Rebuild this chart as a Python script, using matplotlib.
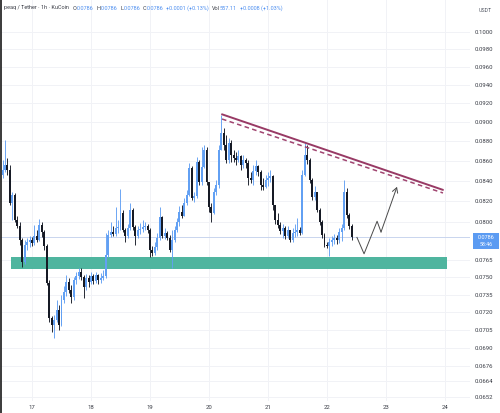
import matplotlib
matplotlib.use("Agg")
import matplotlib.pyplot as plt
from matplotlib.lines import Line2D
from matplotlib.patches import Rectangle
from matplotlib.ticker import NullLocator

# ---------------- data ----------------
hours = list(range(-12, 131))          # hourly candles, 0 = day 17 00:00
first_open = 0.08457
close = [
    0.08507, 0.08557, 0.08507, 0.08183, 0.08261, 0.08022, 0.07966, 0.07836, 0.07637, 0.07791,
    0.07818, 0.07836, 0.07809, 0.07873, 0.07836, 0.07975, 0.07910, 0.07781, 0.07451, 0.07152,
    0.07093, 0.07135, 0.07219, 0.07093, 0.07304, 0.07373, 0.07460, 0.07390, 0.07330, 0.07477,
    0.07512, 0.07548, 0.07503, 0.07416, 0.07495, 0.07460, 0.07512, 0.07468, 0.07521, 0.07477,
    0.07495, 0.07512, 0.07700, 0.07882, 0.07910, 0.07891, 0.07947, 0.07957, 0.08088, 0.07929,
    0.07873, 0.07947, 0.08117, 0.07957, 0.07873, 0.07929, 0.07938, 0.07957, 0.07966, 0.07929,
    0.07745, 0.07718, 0.07772, 0.07855, 0.08050, 0.07873, 0.07901, 0.07855, 0.07745, 0.07836,
    0.07929, 0.08003, 0.08098, 0.08060, 0.08183, 0.08261, 0.08527, 0.08232, 0.08251, 0.08587,
    0.08388, 0.08537, 0.08709, 0.08388, 0.08145, 0.08088, 0.08290, 0.08359, 0.08709, 0.08884,
    0.08759, 0.08607, 0.08780, 0.08658, 0.08627, 0.08607, 0.08648, 0.08557, 0.08607, 0.08577,
    0.08428, 0.08408, 0.08497, 0.08547, 0.08487, 0.08359, 0.08339, 0.08408, 0.08428, 0.08447,
    0.08164, 0.08022, 0.07975, 0.07919, 0.07947, 0.07873, 0.07929, 0.07836, 0.07901, 0.07910,
    0.07929, 0.07901, 0.08457, 0.08658, 0.08607, 0.08408, 0.08241, 0.08290, 0.08117, 0.08003,
    0.07882, 0.07791, 0.07781, 0.07818, 0.07836, 0.07855, 0.07836, 0.07910, 0.07947, 0.08290,
    0.08069, 0.07966, 0.07864,
]
high = [
    0.08607, 0.08811, 0.08627, 0.08557, 0.08290, 0.08280, 0.08060, 0.08003, 0.07855, 0.07836,
    0.07855, 0.07873, 0.07864, 0.07975, 0.07929, 0.08031, 0.08003, 0.07929, 0.07800, 0.07477,
    0.07169, 0.07177, 0.07304, 0.07262, 0.07347, 0.07425, 0.07521, 0.07495, 0.07434, 0.07503,
    0.07548, 0.07583, 0.07583, 0.07521, 0.07530, 0.07521, 0.07548, 0.07530, 0.07548, 0.07530,
    0.07539, 0.07566, 0.07901, 0.07929, 0.08003, 0.07966, 0.08145, 0.08022, 0.08319, 0.08117,
    0.07947, 0.07985, 0.08183, 0.08136, 0.07975, 0.07966, 0.07994, 0.08022, 0.08003, 0.07985,
    0.07947, 0.07781, 0.07818, 0.07901, 0.08145, 0.08060, 0.07947, 0.07919, 0.07882, 0.07929,
    0.07966, 0.08041, 0.08155, 0.08164, 0.08232, 0.08309, 0.08577, 0.08547, 0.08290, 0.08638,
    0.08607, 0.08739, 0.08759, 0.08739, 0.08388, 0.08183, 0.08329, 0.08408, 0.08759, 0.09073,
    0.08936, 0.08863, 0.08832, 0.08811, 0.08709, 0.08688, 0.08709, 0.08658, 0.08658, 0.08627,
    0.08607, 0.08487, 0.08557, 0.08607, 0.08557, 0.08507, 0.08428, 0.08457, 0.08487, 0.08507,
    0.08457, 0.08164, 0.08088, 0.08003, 0.07985, 0.07966, 0.07966, 0.07929, 0.07947, 0.07985,
    0.08041, 0.07957, 0.08507, 0.08780, 0.08759, 0.08627, 0.08428, 0.08349, 0.08290, 0.08136,
    0.08022, 0.07901, 0.07818, 0.07855, 0.07873, 0.07891, 0.07882, 0.07947, 0.07985, 0.08408,
    0.08329, 0.08088, 0.07985,
]
low = [
    0.08428, 0.08487, 0.08457, 0.08164, 0.08022, 0.08003, 0.07947, 0.07791, 0.07592, 0.07619,
    0.07745, 0.07772, 0.07781, 0.07791, 0.07818, 0.07827, 0.07864, 0.07745, 0.07434, 0.07118,
    0.07036, 0.06986, 0.07118, 0.07052, 0.07085, 0.07279, 0.07338, 0.07364, 0.07279, 0.07304,
    0.07442, 0.07486, 0.07477, 0.07321, 0.07390, 0.07416, 0.07442, 0.07442, 0.07451, 0.07442,
    0.07451, 0.07477, 0.07495, 0.07682, 0.07864, 0.07873, 0.07873, 0.07901, 0.07929, 0.07910,
    0.07818, 0.07855, 0.07929, 0.07929, 0.07791, 0.07855, 0.07891, 0.07910, 0.07929, 0.07901,
    0.07682, 0.07691, 0.07700, 0.07745, 0.07836, 0.07855, 0.07845, 0.07836, 0.07727, 0.07583,
    0.07818, 0.07910, 0.07966, 0.08041, 0.08060, 0.08164, 0.08251, 0.08212, 0.08193, 0.08232,
    0.08359, 0.08359, 0.08527, 0.08359, 0.08098, 0.08003, 0.08079, 0.08261, 0.08329, 0.08709,
    0.08709, 0.08577, 0.08577, 0.08587, 0.08587, 0.08557, 0.08587, 0.08507, 0.08527, 0.08527,
    0.08359, 0.08378, 0.08359, 0.08457, 0.08447, 0.08309, 0.08309, 0.08329, 0.08349, 0.08388,
    0.08117, 0.07985, 0.07947, 0.07891, 0.07855, 0.07845, 0.07855, 0.07818, 0.07818, 0.07864,
    0.07873, 0.07882, 0.07891, 0.08447, 0.08567, 0.08378, 0.08212, 0.08212, 0.08098, 0.07975,
    0.07855, 0.07772, 0.07763, 0.07691, 0.07781, 0.07800, 0.07800, 0.07809, 0.07827, 0.07929,
    0.08041, 0.07938, 0.07836,
]
opens = [first_open] + close[:-1]

day_ticks = [0, 24, 48, 72, 96, 120, 144, 168]
day_labels = ["17", "18", "19", "20", "21", "22", "23", "24"]
price_ticks = [0.1000, 0.0980, 0.0960, 0.0940, 0.0920, 0.0900, 0.0880, 0.0860, 0.0840,
               0.0820, 0.0800, 0.0765, 0.0750, 0.0735, 0.0720, 0.0705, 0.0690, 0.0676,
               0.0664, 0.0652]
price_labels = ["%.4f" % t for t in price_ticks]

zone_hours = [-8.5, 168.8]
zone_prices = [0.0757, 0.0768]
trend_hours = [77.3, 167.2]
trend_solid = [0.0908, 0.0831]
trend_dashed = [0.0903, 0.0828]
proj_hours = [132.2, 135.1, 140.4, 142.0, 148.5]
proj_prices = [0.0786, 0.0771, 0.0801, 0.0791, 0.0834]
last_price = 0.0786
countdown = "58:46"

header = [("peaq / Tether · 1h · KuCoin", "d", 4), ("O", "d", 0), ("0.0786", "b", 3),
          ("H", "d", 0), ("0.0786", "b", 3), ("L", "d", 0), ("0.0786", "b", 3),
          ("C", "d", 0), ("0.0786", "b", 3), ("+0.0001 (+0.13%)", "b", 3),
          ("Vol", "d", 0), ("557.11", "b", 3), ("+0.0008 (+1.03%)", "b", 0)]

# ---------------- style ----------------
UP = "#62a0f3"
DOWN = "#161a25"
TXT = "#3a3d46"
FONT = "Roboto"
plt.rcParams["font.family"] = FONT

W, H = 500, 413
fig = plt.figure(figsize=(W / 100, H / 100), dpi=100)
fig.patch.set_facecolor("white")
ax = fig.add_axes([0, 12 / H, 470 / W, 401 / H])
ax.set_facecolor("white")
ax.set_yscale("log")
ax.set_xlim(-13.02, 178.2)
ax.set_ylim(0.06488, 0.10382)
for s in ax.spines.values():
    s.set_visible(False)

# grid
for t in day_ticks:
    ax.axvline(t, color="#f1f2f6", lw=0.7, zorder=0)
for t in price_ticks:
    ax.axhline(t, color="#f1f2f6", lw=0.7, zorder=0)

# zone
ax.fill_between(zone_hours, zone_prices[0], zone_prices[1], color="#4fb59f", lw=0, zorder=1)

# last price line
ax.axhline(last_price, color="#c9d5ee", lw=0.7, zorder=1.5)

# candles
cols = [UP if c >= o else DOWN for o, c in zip(opens, close)]
ax.vlines(hours, low, high, colors=cols, lw=0.65, zorder=2)
bottoms = [min(o, c) for o, c in zip(opens, close)]
heights = [max(abs(c - o), 0.00006) for o, c in zip(opens, close)]
ax.bar(hours, heights, bottom=bottoms, width=0.8, color=cols, lw=0, zorder=3)

# trend lines
ax.plot(trend_hours, trend_solid, color="#983a65", lw=1.4, solid_capstyle="round", zorder=4)
ax.plot(trend_hours, trend_dashed, color="#a04570", lw=1.1, ls=(0, (3, 2.2)), zorder=4)

# projection path
ax.plot(proj_hours[:-1], proj_prices[:-1], color="#4a4a4a", lw=0.7, zorder=4)
ax.annotate("", xy=(proj_hours[-1], proj_prices[-1]), xytext=(proj_hours[-2], proj_prices[-2]),
            arrowprops=dict(arrowstyle="->,head_length=0.35,head_width=0.2", color="#4a4a4a",
                            lw=0.7, shrinkA=0, shrinkB=0), zorder=4)

# ticks
ax.yaxis.tick_right()
ax.set_yticks(price_ticks)
ax.set_yticklabels(price_labels)
ax.yaxis.set_minor_locator(NullLocator())
ax.tick_params(axis="y", length=0, pad=3.6, labelsize=4.3, labelcolor=TXT)
ax.set_xticks(day_ticks)
ax.set_xticklabels(day_labels)
ax.tick_params(axis="x", length=0, pad=2.6, labelsize=4.3, labelcolor=TXT)

# price label box
fig.add_artist(Rectangle((473 / W, (H - 249) / H), 26 / W, 16 / H, transform=fig.transFigure,
                         facecolor="#5b9bf2", edgecolor="none"))
fig.text(486 / W, (H - 237.5) / H, "%.4f" % last_price, color="white", fontsize=4.0,
         ha="center", va="center")
fig.text(486 / W, (H - 245) / H, countdown, color="white", fontsize=3.8, ha="center", va="center")

# USDT
fig.text(485 / W, (H - 10) / H, "USDT", color="#555a66", fontsize=3.8, ha="center", va="center")

# left border
fig.add_artist(Line2D([0.5 / W, 0.5 / W], [0, 1], transform=fig.transFigure, color="#2b2b2b", lw=1.3))

# header
fig.canvas.draw()
r = fig.canvas.get_renderer()
x = 4.0
for txt, c, gap in header:
    t = fig.text(x / W, (H - 8) / H, txt, color=(TXT if c == "d" else "#4e8ff0"),
                 fontsize=4.0, ha="left", va="center")
    bb = t.get_window_extent(renderer=r)
    x += bb.width + gap

fig.savefig("out.png", dpi=100, facecolor="white")
